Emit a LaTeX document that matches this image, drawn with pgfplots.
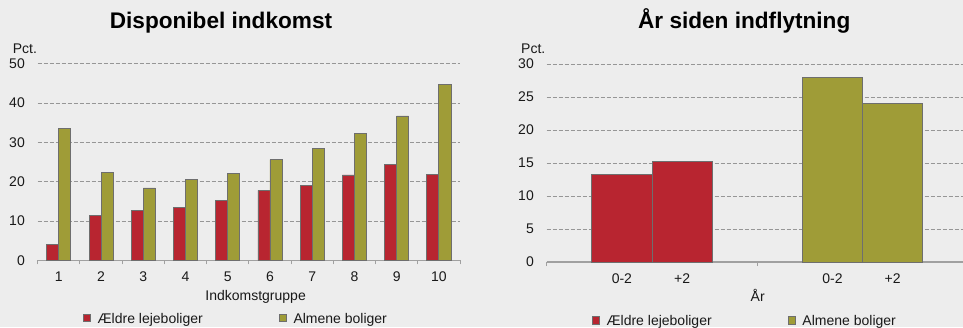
\documentclass[border=0pt]{standalone}
\usepackage{fontspec}
\setmainfont{Liberation Sans}
\usepackage{pgfplots}
\pgfplotsset{compat=1.18}
\definecolor{bg}{RGB}{237,237,237}
\definecolor{redbar}{RGB}{184,37,48}
\definecolor{olivebar}{RGB}{159,156,55}
\definecolor{barline}{RGB}{110,110,110}
\definecolor{gridc}{RGB}{150,150,150}
\definecolor{axisc}{RGB}{160,160,160}
\definecolor{txt}{RGB}{25,25,25}
\pgfplotsset{
  mystyle/.style={
    scale only axis,
    anchor=south west,
    axis x line*=bottom, axis y line*=left,
    y axis line style={draw=none},
    x axis line style={draw=axisc, line width=1.2pt, -},
    tick align=outside,
    major tick length=0pt,
    minor tick length=4pt,
    minor tick style={draw=axisc, line width=1pt},
    ymajorgrids,
    major grid style={draw=gridc, dash pattern=on 4pt off 2pt, line width=0.8pt},
    ymin=0,
    font=\fontsize{14}{16}\selectfont,
    /pgf/number format/assume math mode=true,
    tick label style={text=txt, font=\fontsize{14}{16}\selectfont, inner sep=0pt},
    yticklabel style={anchor=east, xshift=-12.7pt},
    xticklabel style={anchor=base, yshift=-21.5pt},
    legend style={anchor=south west, legend columns=2, draw=none, fill=none,
      inner sep=0pt, font=\fontsize{14}{16}\selectfont, text=txt,
      nodes={inner sep=0pt, text depth=0.15em},
      cells={anchor=base west},
      /tikz/every odd column/.append style={column sep=6.5pt}},
  },
  sq/.style={legend image code/.code={\draw[fill=#1, draw=barline, line width=0.8pt] (0pt,1.2pt) rectangle (7.5pt,8.7pt);}},
}
\begin{document}
\begin{tikzpicture}
\fill[bg] (0,0) rectangle (963pt,327pt);
\path[use as bounding box] (0,0) rectangle (963pt,327pt);
% Left chart
\begin{axis}[mystyle,
  at={(37.7pt,66.7pt)}, width=422.3pt, height=196.6pt,
  xmin=0.5, xmax=10.5, ymax=50,
  ytick={0,10,...,50},
  xtick={1,...,10},
  minor xtick={0.5,1.5,...,10.5},
  title={Disponibel indkomst},
  every axis title/.style={at={(0.434,1.180)}, anchor=base, font=\fontsize{22.6}{26}\selectfont\bfseries},
  xlabel={Indkomstgruppe},
  every axis x label/.style={at={(0.516,-0.207)}, anchor=base, text=txt},
  ylabel={Pct.},
  every axis y label/.style={at={(-0.0673,1.053)}, anchor=base west, text=txt},
  legend style={at={(0.1066,-0.328)}},
]
\addplot[ybar, bar width=0.285, bar shift=-0.1425, fill=redbar, draw=barline, line width=0.8pt, sq=redbar]
  coordinates {(1,4.1) (2,11.4) (3,12.6) (4,13.4) (5,15.2) (6,17.8) (7,19.0) (8,21.7) (9,24.3) (10,21.9)};
\addplot[ybar, bar width=0.285, bar shift=0.1425, fill=olivebar, draw=barline, line width=0.8pt, sq=olivebar]
  coordinates {(1,33.5) (2,22.3) (3,18.4) (4,20.6) (5,22.1) (6,25.6) (7,28.4) (8,32.3) (9,36.7) (10,44.7)};
\legend{\makebox[181pt][l]{Ældre lejeboliger}, Almene boliger}
\end{axis}
% Right chart
\begin{axis}[mystyle,
  at={(546.7pt,65pt)}, width=421.2pt, height=198pt,
  xmin=0, xmax=2, ymax=30,
  ytick={0,5,...,30},
  xtick={0.357,0.643,1.357,1.643},
  xticklabels={0-2,+2,0-2,+2},
  minor xtick={0,1,2},
  title={År siden indflytning},
  every axis title/.style={at={(0.469,1.180)}, anchor=base, font=\fontsize{22.6}{26}\selectfont\bfseries},
  xlabel={År},
  every axis x label/.style={at={(0.501,-0.2005)}, anchor=base, text=txt},
  ylabel={Pct.},
  every axis y label/.style={at={(-0.0689,1.054)}, anchor=base west, text=txt},
  legend style={at={(0.1068,-0.329)}},
]
\addplot[ybar, bar width=0.286, bar shift=0, fill=redbar, draw=barline, line width=0.8pt, sq=redbar]
  coordinates {(0.357,13.3) (0.643,15.2)};
\addplot[ybar, bar width=0.286, bar shift=0, fill=olivebar, draw=barline, line width=0.8pt, sq=olivebar]
  coordinates {(1.357,28.0) (1.643,24.0)};
\legend{\makebox[181pt][l]{Ældre lejeboliger}, Almene boliger}
\end{axis}
\end{tikzpicture}
\end{document}
